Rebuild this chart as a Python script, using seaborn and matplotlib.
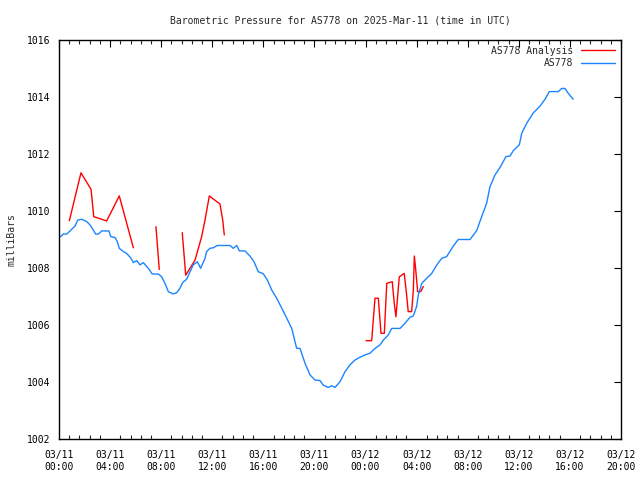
import numpy as np
import pandas as pd
import matplotlib
matplotlib.use("Agg")
import matplotlib.pyplot as plt
from matplotlib.ticker import MultipleLocator, FixedLocator
import seaborn as sns

# ---- data (hours since 2025-03-11 00:00 UTC, pressure in mb) ----
station_hours = [0.08, 0.34, 0.60, 0.86, 1.25, 1.46, 1.78, 2.17, 2.43, 2.69, 2.87, 3.08,
                 3.34, 3.73, 3.91, 4.05, 4.38, 4.56, 4.72, 5.03, 5.30, 5.64, 5.82, 6.08,
                 6.34, 6.60, 6.99, 7.30, 7.77, 8.04, 8.30, 8.56, 8.95, 9.21, 9.47, 9.68,
                 10.00, 10.20, 10.51, 10.83, 11.09, 11.43, 11.56, 11.82, 12.08, 12.39,
                 13.39, 13.65, 13.91, 14.12, 14.56, 14.95, 15.27, 15.60, 15.99, 16.31,
                 16.65, 17.04, 17.44, 17.83, 18.22, 18.61, 18.87, 19.26, 19.65, 20.04,
                 20.43, 20.69, 21.08, 21.35, 21.61, 22.00, 22.39, 22.78, 23.17, 23.57,
                 23.96, 24.35, 24.74, 25.13, 25.39, 25.78, 26.05, 26.70, 27.09, 27.48,
                 27.74, 28.00, 28.13, 28.40, 28.79, 29.18, 29.57, 29.96, 30.35, 30.87,
                 31.26, 32.18, 32.70, 33.09, 33.48, 33.74, 34.13, 34.53, 35.00, 35.31,
                 35.57, 36.04, 36.23, 36.62, 37.13, 37.66, 38.05, 38.39, 39.09, 39.36,
                 39.61, 39.87, 40.26]
station_mb = [1009.09, 1009.19, 1009.19, 1009.30, 1009.47, 1009.68, 1009.71, 1009.63,
              1009.51, 1009.33, 1009.19, 1009.19, 1009.30, 1009.30, 1009.30, 1009.10,
              1009.07, 1008.93, 1008.69, 1008.58, 1008.51, 1008.34, 1008.19, 1008.26,
              1008.11, 1008.19, 1007.99, 1007.79, 1007.79, 1007.69, 1007.46, 1007.17,
              1007.09, 1007.13, 1007.29, 1007.49, 1007.61, 1007.81, 1008.11, 1008.22,
              1007.99, 1008.34, 1008.58, 1008.69, 1008.71, 1008.79, 1008.79, 1008.69,
              1008.79, 1008.60, 1008.60, 1008.42, 1008.22, 1007.87, 1007.80, 1007.58,
              1007.23, 1006.94, 1006.59, 1006.24, 1005.88, 1005.18, 1005.18, 1004.66,
              1004.25, 1004.07, 1004.05, 1003.89, 1003.81, 1003.87, 1003.81, 1004.01,
              1004.36, 1004.60, 1004.77, 1004.87, 1004.95, 1005.01, 1005.18, 1005.30,
              1005.47, 1005.65, 1005.88, 1005.88, 1006.06, 1006.27, 1006.32, 1006.65,
              1007.05, 1007.46, 1007.64, 1007.81, 1008.10, 1008.34, 1008.40, 1008.77,
              1009.00, 1009.00, 1009.31, 1009.80, 1010.27, 1010.85, 1011.26, 1011.53,
              1011.91, 1011.93, 1012.12, 1012.32, 1012.73, 1013.08, 1013.44, 1013.68,
              1013.92, 1014.19, 1014.19, 1014.30, 1014.30, 1014.13, 1013.92]

analysis_seg1_hours = [0.81, 1.72, 2.51, 2.72, 2.87, 3.73, 4.72, 5.82]
analysis_seg1_mb = [1009.66, 1011.34, 1010.76, 1009.80, 1009.78, 1009.65, 1010.53, 1008.71]
analysis_seg2_hours = [7.59, 7.85]
analysis_seg2_mb = [1009.45, 1007.95]
analysis_seg3_hours = [9.65, 9.92, 10.26, 10.65, 11.17, 11.43, 11.77, 12.08, 12.60, 12.82, 12.94]
analysis_seg3_mb = [1009.24, 1007.75, 1007.99, 1008.28, 1009.10, 1009.68, 1010.53, 1010.42,
                    1010.25, 1009.68, 1009.16]
analysis_seg4_hours = [24.04, 24.48, 24.74, 25.00, 25.21, 25.47, 25.66, 26.09, 26.25, 26.38,
                       26.64, 27.03, 27.22, 27.34, 27.61, 27.74, 27.82, 27.93, 28.08, 28.32,
                       28.52]
analysis_seg4_mb = [1005.45, 1005.45, 1006.94, 1006.94, 1005.71, 1005.71, 1007.46, 1007.52,
                    1006.75, 1006.29, 1007.69, 1007.81, 1007.04, 1006.47, 1006.47, 1007.21,
                    1008.42, 1007.93, 1007.17, 1007.17, 1007.35]

x_tick_hours = [0, 4, 8, 12, 16, 20, 24, 28, 32, 36, 40, 44]
x_tick_labels = ["03/11\n00:00", "03/11\n04:00", "03/11\n08:00", "03/11\n12:00",
                 "03/11\n16:00", "03/11\n20:00", "03/12\n00:00", "03/12\n04:00",
                 "03/12\n08:00", "03/12\n12:00", "03/12\n16:00", "03/12\n20:00"]
y_ticks = [1002, 1004, 1006, 1008, 1010, 1012, 1014, 1016]

# ---- plot ----
sns.set_style("white")
plt.rcParams['font.family'] = ['DejaVu Sans Mono', 'DejaVu Sans']
plt.rcParams['font.size'] = 7

fig = plt.figure(figsize=(6.4, 4.8), dpi=100)
ax = fig.add_axes([59 / 640, 1 - 439 / 480, 562 / 640, 399 / 480])

red = "#ff0000"
blue = "#1a85ff"

segs = [(analysis_seg1_hours, analysis_seg1_mb), (analysis_seg2_hours, analysis_seg2_mb),
        (analysis_seg3_hours, analysis_seg3_mb), (analysis_seg4_hours, analysis_seg4_mb)]
for i, (hx, my) in enumerate(segs):
    df = pd.DataFrame({"hour": hx, "mb": my})
    sns.lineplot(data=df, x="hour", y="mb", ax=ax, color=red, linewidth=1.0,
                 estimator=None, sort=False,
                 label="AS778 Analysis" if i == 0 else None)

df_st = pd.DataFrame({"hour": station_hours, "mb": station_mb})
sns.lineplot(data=df_st, x="hour", y="mb", ax=ax, color=blue, linewidth=1.0,
             estimator=None, sort=False, label="AS778")

ax.set_xlim(0, 44)
ax.set_ylim(1002, 1016)
ax.xaxis.set_major_locator(FixedLocator(x_tick_hours))
ax.set_xticklabels(x_tick_labels)
ax.xaxis.set_minor_locator(MultipleLocator(0.8))
ax.yaxis.set_major_locator(FixedLocator(y_ticks))
ax.set_yticklabels([str(v) for v in y_ticks])

ax.tick_params(axis="both", which="major", direction="in", length=5, width=0.8,
               top=True, right=True, labelsize=7, colors="black", pad=6)
ax.tick_params(axis="x", which="minor", direction="in", length=3, width=0.8,
               top=True, bottom=True)
ax.tick_params(axis="x", which="major", pad=8)
for sp in ax.spines.values():
    sp.set_color("black")
    sp.set_linewidth(1.0)

ax.set_xlabel("")
ax.set_ylabel("milliBars", fontsize=7, labelpad=8)
ax.set_title("Barometric Pressure for AS778 on 2025-Mar-11 (time in UTC)", fontsize=7, pad=12)

leg = ax.legend(loc="upper right", frameon=False, markerfirst=False, fontsize=7,
                handlelength=3.5, handletextpad=0.8, borderaxespad=0.2, labelspacing=0.25)

fig.savefig("out.png", dpi=100)
